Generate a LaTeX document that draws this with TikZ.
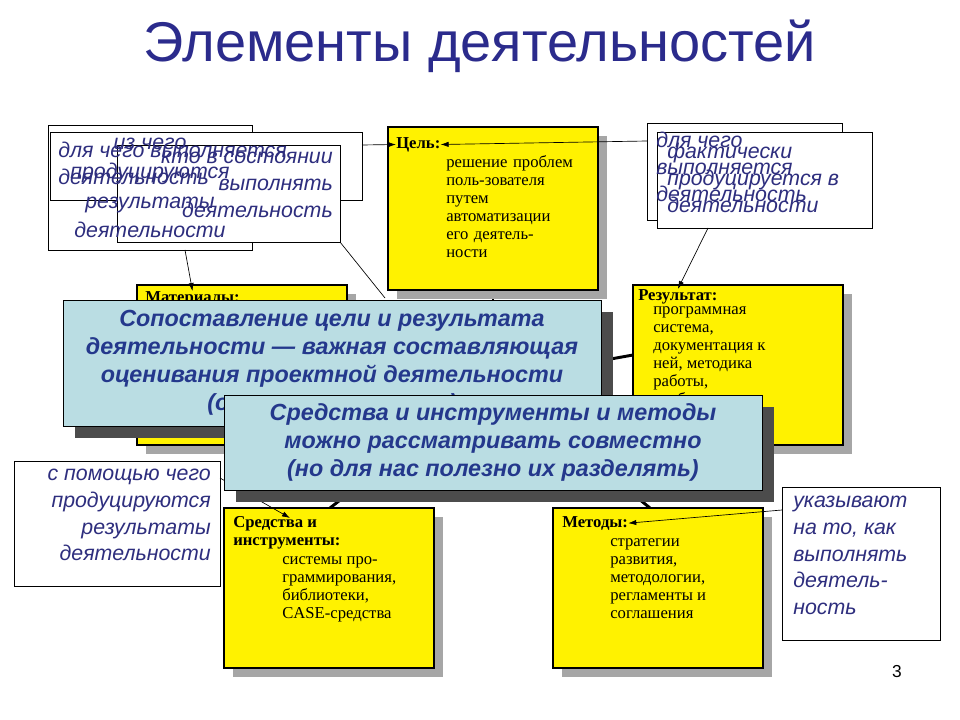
\documentclass[tikz,border=0pt]{standalone}
\usepackage{fontspec}
\setmainfont{Liberation Sans}
\newfontfamily\serif{Liberation Serif}
\usetikzlibrary{arrows.meta}
\definecolor{ttl}{HTML}{2B2B8C}
\definecolor{ctext}{HTML}{2E2E7E}
\definecolor{bl}{HTML}{BADDE3}
\definecolor{bltext}{HTML}{24388C}
\tikzset{
 ybox/.style={draw=black,line width=2pt,fill=yellow},
 shad/.style={fill=gray!70,draw=none},
 callout/.style={draw=black,line width=0.6pt,fill=white},
 ctxt/.style={text=ctext,font=\itshape\fontsize{16}{20}\selectfont,inner sep=0pt},
 ytxt/.style={font=\serif\fontsize{12.5}{13.5}\selectfont,anchor=north west,inner sep=0pt,align=left},
 btxt/.style={text=bltext,font=\bfseries\itshape\fontsize{17.5}{21}\selectfont,align=center,inner sep=0pt},
 conn/.style={line width=0.5pt},
 arr/.style={line width=0.5pt,-{Latex[length=6pt,width=4pt]}},
 thick line/.style={line width=2.2pt}
}
\begin{document}
\begin{tikzpicture}[x=0.75pt,y=-0.75pt]
\useasboundingbox (0,0) rectangle (960,720);
\fill[white] (0,0) rectangle (960,720);
\node[text=ttl,font=\fontsize{42}{46}\selectfont] (title) at (480,46) {Элементы деятельностей};
% hub lines
\coordinate (hub) at (493,380);
\draw[thick line] (493,290) -- (hub);
\draw[thick line] (hub) -- (633,355);
\draw[thick line] (hub) -- (347,360);
\draw[thick line] (hub) -- (330,508);
\draw[thick line] (hub) -- (650,508);
% yellow boxes with shadows
\foreach \a/\b/\c/\d in {388/127/598/290, 137/285/347/445, 633/285/843/445, 224/508/434/668, 553/508/763/668}{
 \fill[shad] (\a+9,\b+9) rectangle (\c+9,\d+9);
 \draw[ybox] (\a,\b) rectangle (\c,\d);
}
\node[ytxt] (goal) at (396,137) {\textbf{Цель:}};
\node[ytxt,text width=150pt] (goalb) at (446,155) {решение проблем\\поль-зователя\\путем\\автоматизации\\его деятель-\\ности};
\node[ytxt] (mat) at (145,291) {\textbf{Материалы:}};
\node[ytxt] (res) at (638,289) {\textbf{Результат:}};
\node[ytxt] (resb) at (653,306) {программная\\система,\\документация к\\ней, методика\\работы,\\учебные\\пособия и др.};
\node[ytxt] (sr) at (233,516) {\textbf{Средства и}\\\textbf{инструменты:}};
\node[ytxt] (srb) at (282,556) {системы про-\\граммирования,\\библиотеки,\\CASE-средства};
\node[ytxt] (met) at (562,516) {\textbf{Методы:}};
\node[ytxt] (metb) at (610,538) {стратегии\\развития,\\методологии,\\регламенты и\\соглашения};
% callouts
\draw[callout] (48,125) rectangle (252,250);
\draw[callout] (50,132) rectangle (362,200);
\draw[callout] (117,145) rectangle (340,242);
\node[ctxt,align=center,font=\itshape\fontsize{16}{22}\selectfont] (c1) at (150,188) {из чего\\продуцируются\\результаты\\деятельности};
\node[ctxt,align=left,anchor=north west] (c2) at (58,142) {для чего выполняется\\деятельность};
\node[ctxt,align=right,anchor=north east] (c3) at (333,152) {кто в состоянии\\выполнять\\деятельность};
\coordinate (c2e) at (362,145);
\draw[arr] (c2e) -- (goal.west);
\coordinate (c1b) at (185,250);
\draw[arr] (c1b) -- (mat.north);
\coordinate (c3b) at (340,242);
\draw[conn] (c3b) -- (385,298);
\draw[callout] (647,123) rectangle (842,220);
\draw[callout] (657,132) rectangle (872,228);
\node[ctxt,align=left,anchor=north west] (c4) at (656,132) {для чего\\выполняется\\деятельность};
\node[ctxt,align=left,anchor=north west] (c5) at (667,143) {фактически\\продуцируется в\\деятельности};
\coordinate (c4w) at (647,141);
\draw[arr] (c4w) -- (goal.east);
\coordinate (c5b) at (708,228);
\draw[arr] (c5b) -- (res.north);
\draw[callout] (14,461) rectangle (220,586);
\node[ctxt,align=right,anchor=north east] (c6) at (211,469) {с помощью чего\\продуцируются\\результаты\\деятельности};
\coordinate (c6e) at (220,478);
\draw[arr] (c6e) -- (290,518);
\draw[callout] (782,487) rectangle (940,640);
\node[ctxt,align=left,anchor=north west] (c7) at (793,496) {указывают\\на то, как\\выполнять\\деятель-\\ность};
\coordinate (c7w) at (782,510);
\draw[arr] (c7w) -- (met.east);
% blue boxes
\fill[gray!60!black] (75,312) rectangle (613,438);
\fill[bl] (63,300) rectangle (601,426);
\draw[black,line width=0.4pt] (63,300) rectangle (601,426);
\node[btxt] (bA) at (332,363) {Сопоставление цели и результата\\деятельности — важная составляющая\\оценивания проектной деятельности\\(оценка результата)};
\fill[gray!60!black] (236,407) rectangle (774,502);
\fill[bl] (224,395) rectangle (762,490);
\draw[black,line width=0.4pt] (224,395) rectangle (762,490);
\node[btxt] (bB) at (493,442) {Средства и инструменты и методы\\можно рассматривать совместно\\(но для нас полезно их разделять)};
\node[font=\fontsize{13}{15}\selectfont] (pg) at (897,672) {3};
\end{tikzpicture}
\end{document}
